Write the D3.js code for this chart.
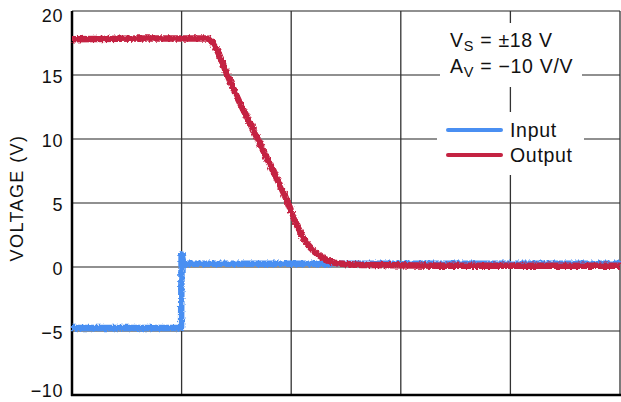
<!DOCTYPE html>
<html>
<head>
<meta charset="utf-8">
<script src="https://cdn.jsdelivr.net/npm/d3@7"></script>
<style>
  html, body { margin: 0; padding: 0; background: #fff; }
  svg { display: block; font-family: "Liberation Sans", Arial, Helvetica, sans-serif; }
</style>
</head>
<body>
<svg id="chart" width="621" height="402"></svg>
<script>
// Time in grid divisions (no x labels in the original)
const xTicks = [0, 1, 2, 3, 4, 5];
const yTicks = [-10, -5, 0, 5, 10, 15, 20];
const yTickLabels = ["\u221210", "\u22125", "0", "5", "10", "15", "20"];

const inputTime  = [0, 0.5, 0.995, 1.0, 1.015, 1.03, 2, 3, 4, 5];
const inputValue = [-4.77, -4.77, -4.77, 1.0, 0.35, 0.25, 0.25, 0.25, 0.25, 0.25];

const outputTime  = [0, 0.71, 1.232, 1.277, 1.323, 1.414, 1.505, 1.624, 1.807, 1.971, 2.035, 2.108, 2.199, 2.29, 2.418, 2.719, 3.5, 5];
const outputValue = [17.8, 17.85, 17.85, 17.6, 16.95, 15.1, 13.3, 11.25, 8.0, 5.0, 3.6, 2.3, 1.3, 0.7, 0.3, 0.15, 0.1, 0.1];

const seriesNames = ["Input", "Output"];
const seriesColors = ["#4a8ff2", "#c42342"];

const svg = d3.select("#chart");
const L = 72, R = 620, T = 11, B = 395;

const x = d3.scaleLinear().domain([0, 5]).range([L, R]);
const y = d3.scaleLinear().domain([-10, 20]).range([B, T]);

// rough "scope trace" texture
const defs = svg.append("defs");
const f = defs.append("filter").attr("id", "rough")
  .attr("x", "-2%").attr("y", "-10%").attr("width", "104%").attr("height", "120%");
f.append("feTurbulence").attr("type", "fractalNoise").attr("baseFrequency", "0.45 0.35")
  .attr("numOctaves", 2).attr("seed", 3).attr("result", "n");
f.append("feDisplacementMap").attr("in", "SourceGraphic").attr("in2", "n")
  .attr("scale", 4).attr("xChannelSelector", "R").attr("yChannelSelector", "G");

// grid
const g = svg.append("g");
g.selectAll("line.h").data(yTicks).join("line")
  .attr("x1", L).attr("x2", R)
  .attr("y1", d => y(d)).attr("y2", d => y(d))
  .attr("stroke", "#222").attr("stroke-width", 1.2);
g.selectAll("line.v").data(xTicks).join("line")
  .attr("y1", T).attr("y2", B)
  .attr("x1", d => x(d)).attr("x2", d => x(d))
  .attr("stroke", "#333").attr("stroke-width", 1.3);

// white boxes behind annotations
svg.append("rect").attr("x", 440).attr("y", 23).attr("width", 142).attr("height", 64).attr("fill", "#fff");
svg.append("rect").attr("x", 437).attr("y", 112).attr("width", 147).attr("height", 63).attr("fill", "#fff");

// frame
svg.append("line").attr("x1", L).attr("x2", L).attr("y1", T).attr("y2", B + 1).attr("stroke", "#000").attr("stroke-width", 2.5);
svg.append("line").attr("x1", L - 1).attr("x2", R + 1).attr("y1", B).attr("y2", B).attr("stroke", "#000").attr("stroke-width", 2.5);

// y labels
const yAxis = svg.append("g");
yAxis.selectAll("text").data(yTicks).join("text")
  .attr("x", 63)
  .attr("y", d => {
    let yy = y(d) + 7.5;
    if (d === 20) yy = y(d) + 10.5;
    if (d === -10) yy = y(d) + 1.5;
    return yy;
  })
  .attr("text-anchor", "end")
  .attr("font-size", 18)
  .attr("letter-spacing", 0.6)
  .attr("fill", "#111")
  .text((d, i) => yTickLabels[i]);

svg.append("text")
  .attr("transform", "translate(23,198) rotate(-90)")
  .attr("text-anchor", "middle")
  .attr("font-size", 18)
  .attr("letter-spacing", 1.4)
  .attr("fill", "#111")
  .text("VOLTAGE (V)");

// series
const line = d3.line().x(d => x(d[0])).y(d => y(d[1])).curve(d3.curveMonotoneX);
const inputData = inputTime.map((t, i) => [t, inputValue[i]]);
const outputData = outputTime.map((t, i) => [t, outputValue[i]]);

svg.append("path").datum(inputData)
  .attr("d", d3.line().x(d => x(d[0])).y(d => y(d[1])))
  .attr("fill", "none").attr("stroke", seriesColors[0])
  .attr("stroke-width", 6.5).attr("stroke-linejoin", "round")
  .attr("filter", "url(#rough)");
svg.append("path").datum(outputData)
  .attr("d", line)
  .attr("fill", "none").attr("stroke", seriesColors[1])
  .attr("stroke-width", 6.5).attr("stroke-linejoin", "round")
  .attr("filter", "url(#rough)");

// annotation text
const ann = svg.append("g").attr("font-size", 19.5).attr("letter-spacing", 0.7).attr("fill", "#111");
const t1 = ann.append("text").attr("x", 450).attr("y", 47);
t1.append("tspan").text("V");
t1.append("tspan").attr("font-size", 14.5).attr("dy", 4).text("S");
t1.append("tspan").attr("dy", -4).text(" = \u00B118 V");
const t2 = ann.append("text").attr("x", 450).attr("y", 73);
t2.append("tspan").text("A");
t2.append("tspan").attr("font-size", 14.5).attr("dy", 4).text("V");
t2.append("tspan").attr("dy", -4).text(" = \u221210 V/V");

// legend
const leg = svg.append("g");
seriesNames.forEach((name, i) => {
  const ly = 130 + i * 25;
  leg.append("line").attr("x1", 448).attr("x2", 501).attr("y1", ly).attr("y2", ly)
    .attr("stroke", seriesColors[i]).attr("stroke-width", 4).attr("stroke-linecap", "round");
  leg.append("text").attr("x", 510).attr("y", ly + 7).attr("font-size", 19.5)
    .attr("letter-spacing", 0.7).attr("fill", "#111").text(name);
});
</script>
</body>
</html>
